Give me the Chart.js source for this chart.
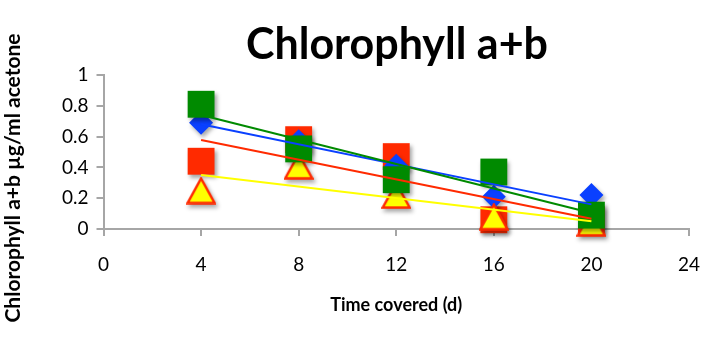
<!DOCTYPE html>
<html>
<head>
<meta charset="utf-8">
<script src="https://cdn.jsdelivr.net/npm/chart.js@4.4.1/dist/chart.umd.min.js"></script>
<style>
  html, body { margin: 0; padding: 0; background: #ffffff; }
  #wrap { width: 708px; height: 354px; position: relative; }
</style>
</head>
<body>
<div id="wrap"><canvas id="c" width="708" height="354"></canvas></div>
<script>
// ---- data ----
const chartTitle = "Chlorophyll a+b";
const xTitle = "Time covered (d)";
const yTitle = "Chlorophyll a+b µg/ml acetone";
const days = [4, 8, 12, 16, 20];
const blueSeries = [0.69, 0.57, 0.41, 0.21, 0.22];
const redSeries = [0.44, 0.58, 0.47, 0.06, 0.06];
const greenSeries = [0.81, 0.52, 0.32, 0.37, 0.09];
const yellowSeries = [0.25, 0.41, 0.22, 0.08, 0.04];
const xTickLabels = ["0", "4", "8", "12", "16", "20", "24"];
const yTickLabels = ["0", "0.2", "0.4", "0.6", "0.8", "1"];

const GREEN = '#008a00', RED = '#ff2a00', BLUE = '#0a40ff', YELLOW = '#ffff00';

function pts(xs, ys) { return xs.map((x, i) => ({ x: x, y: ys[i] })); }
function trend(xs, ys) {
  const n = xs.length;
  const mx = xs.reduce((a, b) => a + b, 0) / n;
  const my = ys.reduce((a, b) => a + b, 0) / n;
  let sxy = 0, sxx = 0;
  for (let i = 0; i < n; i++) { sxy += (xs[i] - mx) * (ys[i] - my); sxx += (xs[i] - mx) * (xs[i] - mx); }
  const b = sxy / sxx, a = my - b * mx;
  const x0 = xs[0], x1 = xs[n - 1];
  return [{ x: x0, y: a + b * x0 }, { x: x1, y: a + b * x1 }];
}

// triangle marker (centered in its bounding box)
const tri = document.createElement('canvas');
tri.width = 30; tri.height = 28;
(function () {
  const g = tri.getContext('2d');
  g.beginPath();
  g.moveTo(15, 2); g.lineTo(28.5, 26.5); g.lineTo(1.5, 26.5); g.closePath();
  g.fillStyle = YELLOW; g.fill();
  g.lineWidth = 2.5; g.strokeStyle = RED; g.lineJoin = 'miter'; g.stroke();
})();

const shadowPlugin = {
  id: 'shadow',
  beforeDatasetDraw(chart, args) {
    const ds = chart.data.datasets[args.index];
    if (ds.markerShadow) {
      const ctx = chart.ctx;
      ctx.save();
      ctx.shadowColor = 'rgba(0,0,0,0.35)';
      ctx.shadowBlur = 4;
      ctx.shadowOffsetX = 2;
      ctx.shadowOffsetY = 3;
    }
  },
  afterDatasetDraw(chart, args) {
    const ds = chart.data.datasets[args.index];
    if (ds.markerShadow) chart.ctx.restore();
  }
};

const titlesPlugin = {
  id: 'titles',
  afterDraw(chart) {
    const ctx = chart.ctx;
    const ca = chart.chartArea;
    ctx.save();
    ctx.fillStyle = '#000';
    ctx.textAlign = 'center';
    ctx.textBaseline = 'middle';
    ctx.font = 'bold 43px Lato';
    ctx.fillText(chartTitle, 397, 45);
    ctx.font = 'bold 18px Lato';
    ctx.fillText(xTitle, (ca.left + ca.right) / 2, 305);
    ctx.translate(13, 178);
    ctx.rotate(-Math.PI / 2);
    ctx.font = 'bold 21px Lato';
    ctx.fillText(yTitle, 0, 0);
    ctx.restore();
  }
};

const axisColor = '#a6a6a6';

new Chart(document.getElementById('c'), {
  type: 'scatter',
  data: {
    datasets: [
      { type: 'line', data: trend(days, greenSeries), borderColor: GREEN, borderWidth: 2, pointRadius: 0, fill: false, order: 0 },
      { type: 'line', data: trend(days, blueSeries), borderColor: BLUE, borderWidth: 2, pointRadius: 0, fill: false, order: 0 },
      { type: 'line', data: trend(days, redSeries), borderColor: RED, borderWidth: 2, pointRadius: 0, fill: false, order: 0 },
      { type: 'line', data: trend(days, yellowSeries), borderColor: YELLOW, borderWidth: 2, pointRadius: 0, fill: false, order: 0 },
      { data: pts(days, greenSeries), pointStyle: 'rect', pointRadius: 19, backgroundColor: GREEN, borderColor: GREEN, borderWidth: 0, order: 1, clip: false, markerShadow: true },
      { data: pts(days, yellowSeries), pointStyle: tri, pointRadius: 15, order: 2, clip: false, markerShadow: true },
      { data: pts(days, blueSeries), pointStyle: 'rectRot', pointRadius: 12, backgroundColor: BLUE, borderColor: BLUE, borderWidth: 0, order: 3, clip: false, markerShadow: true },
      { data: pts(days, redSeries), pointStyle: 'rect', pointRadius: 19, backgroundColor: RED, borderColor: RED, borderWidth: 0, order: 4, clip: false, markerShadow: true }
    ]
  },
  options: {
    responsive: false,
    animation: false,
    events: [],
    layout: { padding: { top: 75, right: 11.5, bottom: 0, left: 0 } },
    plugins: { legend: { display: false }, tooltip: { enabled: false }, title: { display: false } },
    scales: {
      x: {
        type: 'linear', min: 0, max: 24,
        afterFit(s) { s.height = 125; s.paddingLeft = 0; s.paddingRight = 0; },
        afterBuildTicks(s) { s.ticks = xTickLabels.map(v => ({ value: parseFloat(v) })); },
        ticks: {
          callback: (v) => xTickLabels.find(t => parseFloat(t) === v),
          color: '#000', font: { family: 'Lato', size: 19 }, padding: 17, maxRotation: 0, autoSkip: false
        },
        grid: { drawOnChartArea: false, drawTicks: true, tickLength: 7, color: axisColor, lineWidth: 2 },
        border: { display: true, color: axisColor, width: 2 }
      },
      y: {
        type: 'linear', min: 0, max: 1,
        afterFit(s) { s.width = 103.5; s.paddingTop = 0; s.paddingBottom = 0; },
        afterBuildTicks(s) { s.ticks = yTickLabels.map(v => ({ value: parseFloat(v) })); },
        ticks: {
          callback: (v) => yTickLabels.find(t => Math.abs(parseFloat(t) - v) < 1e-9),
          color: '#000', font: { family: 'Lato', size: 19 }, padding: 8, autoSkip: false
        },
        grid: { drawOnChartArea: false, drawTicks: true, tickLength: 7, color: axisColor, lineWidth: 2 },
        border: { display: true, color: axisColor, width: 2 }
      }
    }
  },
  plugins: [shadowPlugin, titlesPlugin]
});
</script>
</body>
</html>
